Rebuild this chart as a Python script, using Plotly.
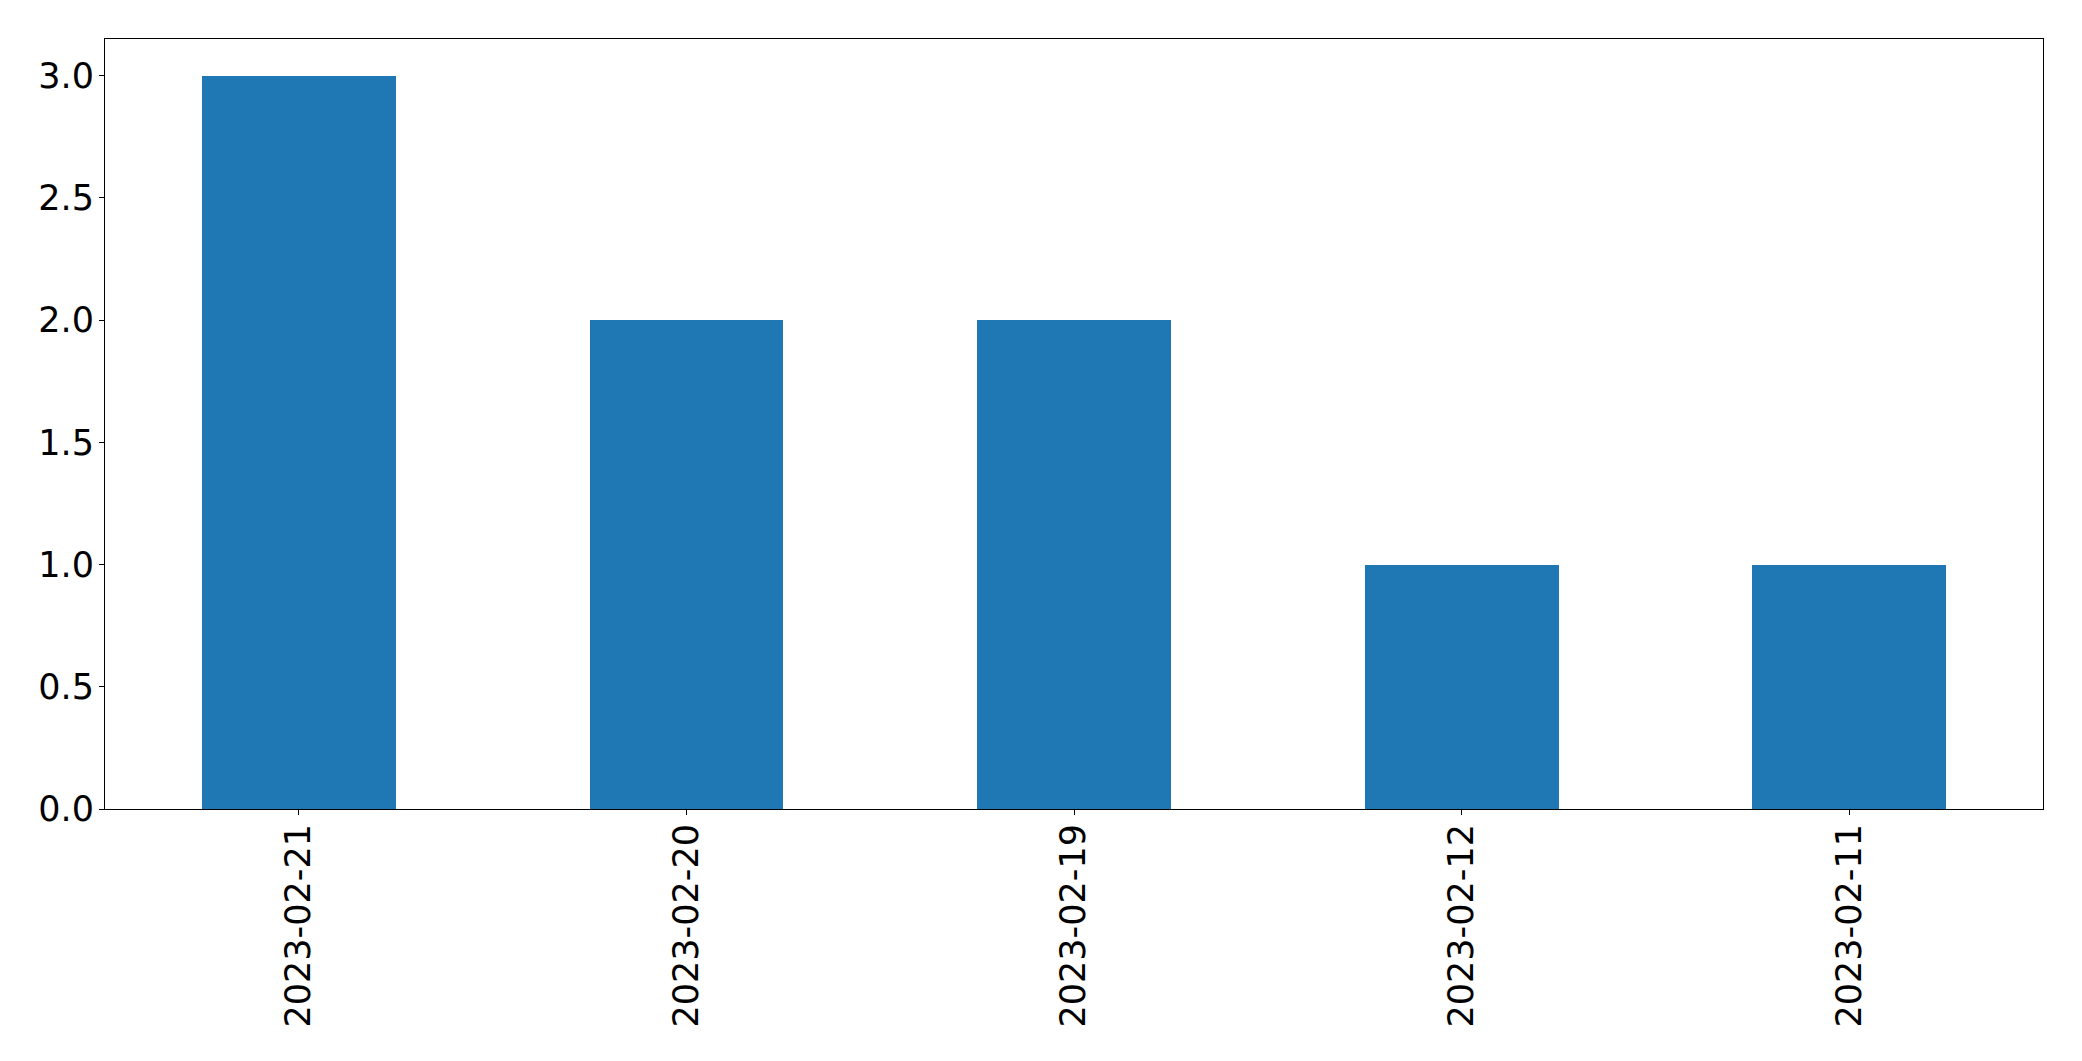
import plotly.graph_objects as go

dates = ["2023-02-21", "2023-02-20", "2023-02-19", "2023-02-12", "2023-02-11"]
counts = [3, 2, 2, 1, 1]
y_ticks = [0.0, 0.5, 1.0, 1.5, 2.0, 2.5, 3.0]
y_tick_labels = ["0.0", "0.5", "1.0", "1.5", "2.0", "2.5", "3.0"]

fig = go.Figure(go.Bar(x=dates, y=counts, marker_color="#1f77b4", width=0.5,
                       marker_line_width=0))

font = dict(family="DejaVu Sans", size=35, color="black")
axis_common = dict(showline=True, linecolor="black", linewidth=1.1, mirror=True,
                   ticks="outside", ticklen=5, tickwidth=1.1, tickcolor="black",
                   showgrid=False, zeroline=False, tickfont=font)

fig.update_layout(
    width=2074, height=1053,
    margin=dict(l=97, r=39, t=31, b=252, pad=0),
    paper_bgcolor="white", plot_bgcolor="white",
    showlegend=False,
    bargap=0,
)
fig.update_xaxes(type="category", range=[-0.5, 4.5], tickangle=-90,
                 ticklabelstandoff=-5, **axis_common)
fig.update_yaxes(range=[0, 3.15], tickvals=y_ticks, ticktext=y_tick_labels,
                 ticklabelstandoff=-2, **axis_common)

fig.write_html("out.html")
